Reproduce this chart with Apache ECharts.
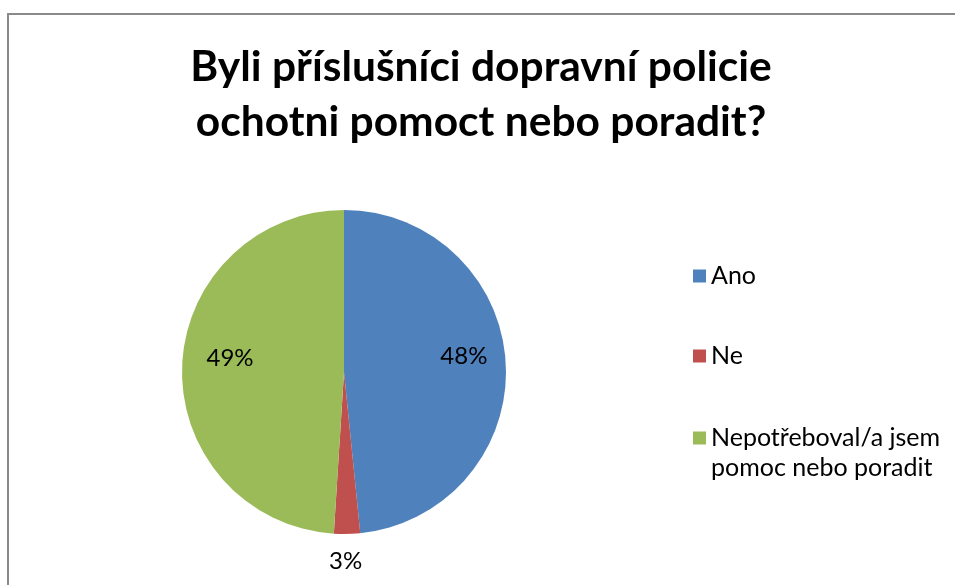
<!DOCTYPE html>
<html>
<head>
<meta charset="utf-8">
<script src="https://cdn.jsdelivr.net/npm/echarts@6/dist/echarts.min.js"></script>
<style>html,body{margin:0;padding:0;background:#fff}#c{width:955px;height:585px}</style>
</head>
<body>
<div id="c"></div>
<script>
const titleText = 'Byli příslušníci dopravní policie\nochotni pomoct nebo poradit?';
const categories = ['Ano', 'Ne', 'Nepotřeboval/a jsem\npomoc nebo poradit'];
const values = [48.4, 2.6, 49.0];
const colors = ['#4F81BD', '#C0504D', '#9BBB59'];
const labelOffsets = [[36, -12], [0, 105], [-30, -11]];
const legendTops = [261, 341, 393];

const chart = echarts.init(document.getElementById('c'));
const fontFam = 'Lato';
chart.setOption({
  animation: false,
  graphic: [{
    type: 'rect', shape: { x: 8, y: 14, width: 960, height: 600 },
    style: { fill: 'none', stroke: '#8a8a8a', lineWidth: 2 }, silent: true
  }],
  title: {
    text: titleText, left: 476, top: 35, textAlign: 'center',
    textStyle: { fontFamily: fontFam, fontWeight: 'bold', fontSize: 42.5, lineHeight: 55, color: '#000' }
  },
  legend: categories.map((n, i) => ({
    orient: 'vertical', left: 693, top: legendTops[i], itemWidth: 13, itemHeight: 13,
    icon: 'rect', selectedMode: false, padding: 0,
    formatter: name => name.indexOf('\n') >= 0 ? '\n' + name : name,
    textStyle: { fontFamily: fontFam, fontSize: 25, color: '#000', lineHeight: 30 },
    data: [n]
  })),
  series: [{
    type: 'pie', center: [344, 372], radius: 162, startAngle: 90, clockwise: true,
    data: categories.map((n, i) => ({
      name: n, value: values[i], itemStyle: { color: colors[i] },
      label: { offset: labelOffsets[i] }
    })),
    label: {
      show: true, position: 'inside', fontFamily: fontFam, fontSize: 24, color: '#000',
      formatter: p => Math.round(p.percent) + '%'
    },
    labelLine: { show: false },
    emphasis: { disabled: true }
  }]
});
</script>
</body>
</html>
